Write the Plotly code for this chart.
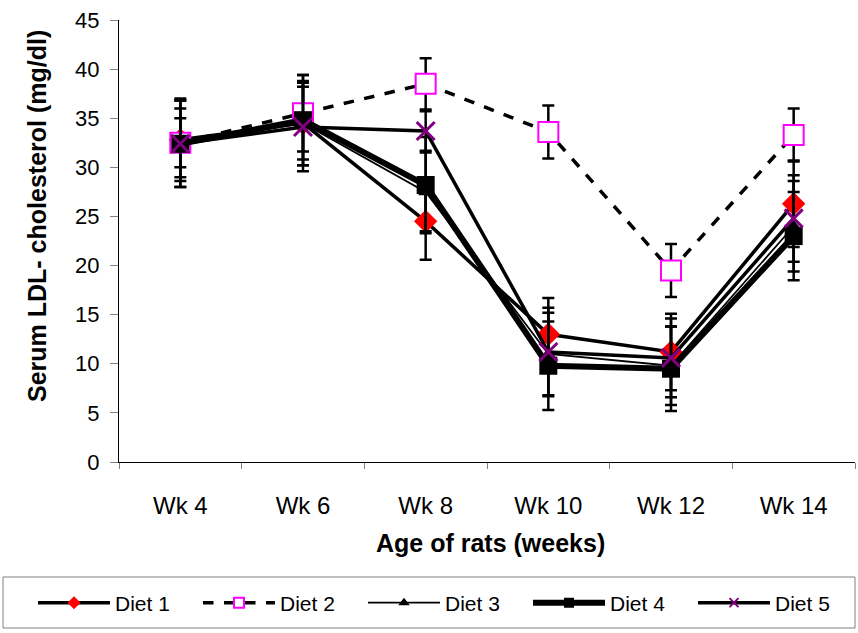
import plotly.graph_objects as go

weeks = ["Wk 4", "Wk 6", "Wk 8", "Wk 10", "Wk 12", "Wk 14"]

diet1 = [32.8, 34.5, 24.5, 13.0, 11.2, 26.3]
diet2 = [32.5, 35.5, 38.5, 33.6, 19.5, 33.3]
diet3 = [32.5, 34.5, 27.5, 11.0, 9.8, 24.0]
diet4 = [32.4, 34.8, 28.2, 9.8, 9.5, 23.0]
diet5 = [32.4, 34.1, 33.7, 11.2, 10.6, 24.8]

err1 = [4.2, 3.7, 3.9, 3.7, 3.9, 4.4]
err2 = [2.5, 3.9, 2.6, 2.7, 2.7, 2.7]
err3 = [3.5, 4.3, 4.0, 4.2, 4.0, 4.6]
err4 = [4.4, 4.6, 4.9, 4.5, 4.3, 4.5]
err5 = [4.4, 4.5, 2.0, 4.5, 4.0, 4.4]

FONT = "Liberation Sans, Arial, sans-serif"

fig = go.Figure()

def add(name, y, err, line, marker, legend_marker):
    fig.add_trace(go.Scatter(
        x=weeks, y=y, name=name, mode="lines+markers",
        line=line, marker=marker, showlegend=False, legendgroup=name,
        error_y=dict(type="data", array=err, visible=True,
                     color="black", thickness=2.5, width=6),
    ))
    # legend entry with the smaller legend symbol
    fig.add_trace(go.Scatter(
        x=[None], y=[None], name=name, mode="lines+markers",
        line=line, marker=legend_marker, showlegend=True, legendgroup=name,
    ))

add("Diet 1", diet1, err1,
    dict(color="black", width=3.5),
    dict(symbol="diamond", size=18, color="#ff0000"),
    dict(symbol="diamond", size=10, color="#ff0000"))
add("Diet 2", diet2, err2,
    dict(color="black", width=3.5, dash="dash"),
    dict(symbol="square", size=20, color="white",
         line=dict(color="#ff00ff", width=2)),
    dict(symbol="square", size=10, color="white",
         line=dict(color="#ff00ff", width=2)))
add("Diet 3", diet3, err3,
    dict(color="black", width=1.8),
    dict(symbol="triangle-up", size=13, color="black"),
    dict(symbol="triangle-up", size=10, color="black"))
add("Diet 4", diet4, err4,
    dict(color="black", width=6),
    dict(symbol="square", size=18, color="black"),
    dict(symbol="square", size=10, color="black"))
add("Diet 5", diet5, err5,
    dict(color="black", width=3.5),
    dict(symbol="x-thin-open", size=18, color="#800080",
         line=dict(color="#800080", width=3)),
    dict(symbol="x-thin-open", size=9, color="#800080",
         line=dict(color="#800080", width=2)))

W, H = 858, 633
L, T = 119, 20
R = W - 855
B = H - 462
pw = W - L - R
ph = H - T - B

def px(x):
    return (x - L) / pw

def py(y):
    return (H - B - y) / ph

fig.update_layout(
    width=W, height=H,
    margin=dict(l=L, r=R, t=T, b=B),
    paper_bgcolor="white", plot_bgcolor="white",
    font=dict(family=FONT, color="black", size=22),
    showlegend=True,
    legend=dict(orientation="h", x=px(33), xanchor="left",
                y=py(603), yanchor="middle",
                font=dict(size=21, family=FONT),
                entrywidth=78, itemwidth=72,
                bgcolor="rgba(0,0,0,0)", borderwidth=0),
    xaxis=dict(type="category", range=[-0.5, 5.5],
               showline=True, linecolor="black", linewidth=1,
               ticks="outside", ticklen=6, tickcolor="#808080",
               tickson="boundaries", showgrid=False, zeroline=False,
               tickfont=dict(size=24), ticklabelstandoff=22),
    yaxis=dict(range=[0, 45], dtick=5, showline=True, linecolor="black",
               linewidth=1, ticks="outside", ticklen=8, tickcolor="#808080",
               showgrid=False, zeroline=False, tickfont=dict(size=22),
               ticklabelstandoff=6, ticklabeloverflow="allow"),
    shapes=[dict(type="rect", xref="paper", yref="paper",
                 x0=px(3), x1=px(855), y0=py(628), y1=py(577),
                 line=dict(color="#808080", width=1))],
    annotations=[
        dict(text="<b>Serum LDL- cholesterol (mg/dl)</b>",
             xref="paper", yref="paper", x=px(37), y=py(216),
             xanchor="center", yanchor="middle",
             textangle=-90, showarrow=False, font=dict(size=25)),
        dict(text="<b>Age of rats (weeks)</b>",
             xref="paper", yref="paper", x=px(490), y=py(543),
             xanchor="center", yanchor="middle",
             showarrow=False, font=dict(size=25)),
    ],
)

fig.write_html("out.html",
               config={"displayModeBar": False},
               post_script="document.body.style.margin='0';"
                           "document.body.style.overflow='hidden';")
